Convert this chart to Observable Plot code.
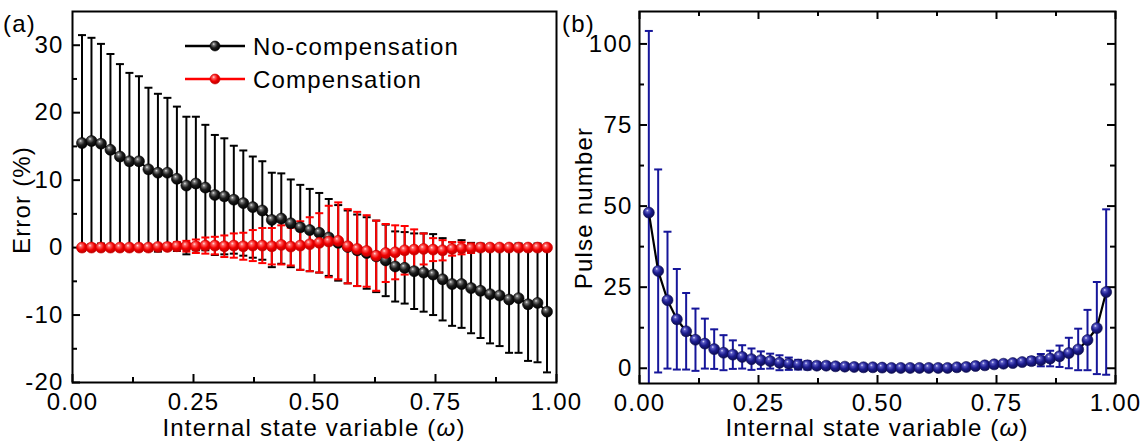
<!DOCTYPE html>
<html>
<head>
<meta charset="utf-8">
<script src="https://cdn.jsdelivr.net/npm/d3@7"></script>
<script src="https://cdn.jsdelivr.net/npm/@observablehq/plot@0.6"></script>
<style>
  body { margin: 0; background: #fff; }
  #wrap { position: relative; width: 1143px; height: 446px; overflow: hidden; background: #fff;
          font-family: "Liberation Sans", Arial, sans-serif; color: #000; }
  #wrap > svg { position: absolute; top: 0; }
  #overlay { left: 0; pointer-events: none; }
  #overlay text { font-family: "Liberation Sans", Arial, sans-serif; font-size: 24px; letter-spacing: 1.2px; fill: #000; }
</style>
</head>
<body>
<div id="wrap">
  <svg width="0" height="0" style="position:absolute">
    <defs>
      <radialGradient id="ballBlack" cx="0.42" cy="0.4" r="0.62" fx="0.36" fy="0.3">
        <stop offset="0" stop-color="#e8e8e8"/>
        <stop offset="0.2" stop-color="#777"/>
        <stop offset="0.55" stop-color="#1c1c1c"/>
        <stop offset="1" stop-color="#000"/>
      </radialGradient>
      <radialGradient id="ballRed" cx="0.42" cy="0.4" r="0.62" fx="0.36" fy="0.3">
        <stop offset="0" stop-color="#ffe0e0"/>
        <stop offset="0.22" stop-color="#ff6060"/>
        <stop offset="0.6" stop-color="#f00000"/>
        <stop offset="1" stop-color="#b80000"/>
      </radialGradient>
      <radialGradient id="ballNavy" cx="0.42" cy="0.4" r="0.62" fx="0.36" fy="0.3">
        <stop offset="0" stop-color="#e6e6ff"/>
        <stop offset="0.2" stop-color="#5a5ac4"/>
        <stop offset="0.55" stop-color="#1c1c8e"/>
        <stop offset="1" stop-color="#0c0c50"/>
      </radialGradient>
    </defs>
  </svg>
</div>
<script>
// Internal state variable ω of each sampled state
const omega = [0.0196, 0.0392, 0.0588, 0.0784, 0.0980, 0.1176, 0.1373, 0.1569, 0.1765, 0.1961,
               0.2157, 0.2353, 0.2549, 0.2745, 0.2941, 0.3137, 0.3333, 0.3529, 0.3725, 0.3922,
               0.4118, 0.4314, 0.4510, 0.4706, 0.4902, 0.5098, 0.5294, 0.5490, 0.5686, 0.5882,
               0.6078, 0.6275, 0.6471, 0.6667, 0.6863, 0.7059, 0.7255, 0.7451, 0.7647, 0.7843,
               0.8039, 0.8235, 0.8431, 0.8627, 0.8824, 0.9020, 0.9216, 0.9412, 0.9608, 0.9804];

// (a) programming error (%), mean and spread
const noCompMean = [15.5, 15.8, 15.4, 14.5, 13.5, 12.8, 12.8, 11.6, 11.1, 11.1,
                    10.2, 9.2, 9.5, 8.9, 7.8, 7.6, 7.1, 6.6, 6.0, 5.5,
                    4.1, 4.3, 3.6, 3.0, 2.6, 2.2, 1.5, 0.7, 0.1, -0.4,
                    -0.8, -1.3, -1.9, -2.8, -3.0, -3.5, -3.7, -4.0, -4.7, -5.4,
                    -5.4, -6.0, -6.4, -6.9, -7.1, -7.7, -7.5, -8.4, -8.2, -9.5];
const noCompErr = [16.0, 15.3, 14.8, 14.2, 13.7, 13.1, 12.6, 12.1, 11.7, 11.1,
                   10.7, 10.2, 9.9, 9.3, 8.9, 8.6, 8.0, 7.8, 7.5, 7.3,
                   7.0, 6.7, 6.5, 6.3, 6.1, 5.9, 5.7, 5.6, 5.4, 5.3,
                   5.3, 5.3, 5.3, 5.2, 5.3, 5.6, 5.8, 6.0, 6.1, 6.2,
                   6.5, 6.7, 7.0, 7.3, 7.5, 7.9, 8.1, 8.4, 8.8, 9.0];
const compMean = [0, 0, 0, 0, 0, 0, 0, 0, 0.1, 0.1,
                  0.2, 0.2, 0.2, 0.3, 0.3, 0.2, 0.3, 0.2, 0.3, 0.3,
                  0.2, 0.4, 0.15, 0.3, 0.5, 0.7, 0.9, 1.0, 0.2, -0.2,
                  -0.5, -1.2, -0.8, -0.7, -0.4, -0.3, -0.2, -0.3, -0.4, -0.2,
                  -0.1, -0.1, 0, 0, 0, 0, 0, 0, 0, 0];
const compErr = [0.1, 0.1, 0.1, 0.15, 0.15, 0.2, 0.2, 0.25, 0.3, 0.5,
                 0.6, 0.8, 1.0, 1.2, 1.3, 1.6, 1.8, 2.0, 2.3, 2.6,
                 2.7, 2.9, 2.8, 3.6, 4.0, 4.4, 5.3, 5.7, 5.5, 5.5,
                 5.3, 5.2, 4.3, 4.0, 3.6, 3.0, 2.3, 1.7, 1.5, 1.0,
                 0.9, 0.7, 0.5, 0.4, 0.3, 0.25, 0.2, 0.15, 0.1, 0.05];

// (b) number of programming pulses, mean and spread
const pulseMean = [48, 30, 21, 15.1, 11.4, 8.8, 7.6, 5.9, 4.8, 4.2,
                   3.5, 2.8, 2.5, 2.2, 1.7, 1.4, 1.1, 0.9, 0.8, 0.8,
                   0.6, 0.5, 0.4, 0.3, 0.3, 0.2, 0.1, 0.1, 0.1, 0.1,
                   0.1, 0.1, 0.1, 0.3, 0.4, 0.7, 0.9, 1.2, 1.4, 1.6,
                   1.9, 2.2, 2.5, 3.0, 3.7, 4.7, 5.8, 8.7, 12.4, 23.5];
const pulseErr = [56, 31.3, 21.1, 15.5, 11.8, 9.6, 7.7, 6.1, 5.4, 4.4,
                  3.6, 3.3, 2.7, 2.3, 2.3, 1.9, 1.5, 1.3, 1.0, 0.9,
                  0.8, 0.7, 0.6, 0.5, 0.4, 0.4, 0.4, 0.4, 0.4, 0.4,
                  0.4, 0.4, 0.4, 0.4, 0.4, 0.45, 0.5, 0.5, 0.6, 0.6,
                  0.7, 1.2, 1.9, 2.4, 3.3, 4.7, 6.4, 9.3, 14.2, 25.5];

// Axis ticks
const xMajor = [0, 0.25, 0.5, 0.75, 1];
const xMinor = [0.125, 0.375, 0.625, 0.875];
const errMajor = [-20, -10, 0, 10, 20, 30];
const errMinor = [-15, -5, 5, 15, 25];
const pulseMajor = [0, 25, 50, 75, 100];
const pulseMinor = [12.5, 37.5, 62.5, 87.5];

const series = (ys, es) => omega.map((x, i) => ({x, y: ys[i], e: es[i]}));
const noComp = series(noCompMean, noCompErr);
const comp = series(compMean, compErr);
const pulses = series(pulseMean, pulseErr);

// horizontal cap drawn as a dot symbol, half-width = r
const capSymbol = {
  draw(ctx, size) { const r = Math.sqrt(size / Math.PI); ctx.moveTo(-r, 0); ctx.lineTo(r, 0); }
};

function errorBars(data, color) {
  return [
    Plot.ruleX(data, {x: "x", y1: d => d.y - d.e, y2: d => d.y + d.e, stroke: color, strokeWidth: 2, clip: true}),
    Plot.dot(data, {x: "x", y: d => d.y + d.e, symbol: capSymbol, r: 4, fill: "none", stroke: color, strokeWidth: 2, clip: true}),
    Plot.dot(data, {x: "x", y: d => d.y - d.e, symbol: capSymbol, r: 4, fill: "none", stroke: color, strokeWidth: 2, clip: true})
  ];
}

// inward-pointing tick marks on the frame
function frameTicks(plotW, plotH, xs, xm, ys, ym, mirror) {
  const m = [
    Plot.tickX(xs, {insetTop: plotH - 8, stroke: "#000", strokeWidth: 2}),
    Plot.tickX(xm, {insetTop: plotH - 5, stroke: "#000", strokeWidth: 2}),
    Plot.tickY(ys, {insetRight: plotW - 8, stroke: "#000", strokeWidth: 2}),
    Plot.tickY(ym, {insetRight: plotW - 5, stroke: "#000", strokeWidth: 2})
  ];
  if (mirror) m.push(
    Plot.tickX(xs, {insetBottom: plotH - 8, stroke: "#000", strokeWidth: 2}),
    Plot.tickX(xm, {insetBottom: plotH - 5, stroke: "#000", strokeWidth: 2}),
    Plot.tickY(ys, {insetLeft: plotW - 8, stroke: "#000", strokeWidth: 2}),
    Plot.tickY(ym, {insetLeft: plotW - 5, stroke: "#000", strokeWidth: 2})
  );
  return m;
}

const baseStyle = {
  fontFamily: "'Liberation Sans', Arial, sans-serif",
  fontSize: "24px",
  letterSpacing: "1.2px",
  background: "transparent",
  overflow: "visible",
  color: "#000"
};

const fmt2 = d3.format(".2f");

// (a) error with and without compensation
const plotA = Plot.plot({
  width: 570, height: 446,
  marginLeft: 72, marginRight: 14, marginTop: 11, marginBottom: 64,
  style: baseStyle,
  x: {domain: [0, 1]},
  y: {domain: [-20, 35]},
  marks: [
    ...frameTicks(484, 371, xMajor, xMinor, errMajor, errMinor, false),
    Plot.axisX(xMajor, {tickSize: 0, tickPadding: 10.5, tickFormat: fmt2, label: null}),
    Plot.axisY(errMajor, {tickSize: 0, tickPadding: 9, tickFormat: d => String(d), label: null}),
    ...errorBars(noComp, "#000"),
    ...errorBars(comp, "#ff0000"),
    Plot.line(noComp, {x: "x", y: "y", stroke: "#000", strokeWidth: 2}),
    Plot.dot(noComp, {x: "x", y: "y", r: 5.5, fill: "url(#ballBlack)", stroke: "#000", strokeWidth: 0.6}),
    Plot.line(comp, {x: "x", y: "y", stroke: "#ff0000", strokeWidth: 2}),
    Plot.dot(comp, {x: "x", y: "y", r: 5.5, fill: "url(#ballRed)", stroke: "#d00000", strokeWidth: 0.6}),
    Plot.frame({stroke: "#000", strokeWidth: 2})
  ]
});
plotA.style.left = "0px";

// (b) pulse number needed to reach each state
const plotB = Plot.plot({
  width: 573, height: 446,
  marginLeft: 69, marginRight: 28, marginTop: 11, marginBottom: 63,
  style: baseStyle,
  x: {domain: [0, 1]},
  y: {domain: [-4.7, 110]},
  marks: [
    ...frameTicks(476, 372, xMajor, xMinor, pulseMajor, pulseMinor, true),
    Plot.axisX(xMajor, {tickSize: 0, tickPadding: 10, tickFormat: fmt2, label: null}),
    Plot.axisY(pulseMajor, {tickSize: 0, tickPadding: 7, tickFormat: d => String(d), label: null}),
    ...errorBars(pulses, "#16169a"),
    Plot.line(pulses, {x: "x", y: "y", stroke: "#000", strokeWidth: 2.2}),
    Plot.dot(pulses, {x: "x", y: "y", r: 5.5, fill: "url(#ballNavy)", stroke: "#0c0c50", strokeWidth: 0.6}),
    Plot.frame({stroke: "#000", strokeWidth: 2})
  ]
});
plotB.style.left = "570px";

const wrap = document.getElementById("wrap");
wrap.appendChild(plotA);
wrap.appendChild(plotB);

// titles, panel tags and legend
const ov = d3.select(wrap).append("svg")
  .attr("id", "overlay").attr("width", 1143).attr("height", 446);

ov.append("text").attr("x", 3).attr("y", 32).text("(a)");
ov.append("text").attr("x", 562).attr("y", 32).text("(b)");

for (const cx of [314, 877]) {
  const t = ov.append("text").attr("x", cx).attr("y", 435.5).attr("text-anchor", "middle");
  t.append("tspan").text("Internal state variable (");
  t.append("tspan").attr("font-style", "italic").text("ω");
  t.append("tspan").text(")");
}

ov.append("text").attr("transform", "translate(30,200) rotate(-90)").attr("text-anchor", "middle").text("Error (%)");
ov.append("text").attr("transform", "translate(592,208) rotate(-90)").attr("text-anchor", "middle").text("Pulse number");

const legend = [
  {name: "No-compensation", color: "#000", ball: "url(#ballBlack)", edge: "#000", y: 46, base: 55},
  {name: "Compensation", color: "#ff0000", ball: "url(#ballRed)", edge: "#d00000", y: 79, base: 88}
];
for (const it of legend) {
  ov.append("line").attr("x1", 185).attr("x2", 245).attr("y1", it.y).attr("y2", it.y)
    .attr("stroke", it.color).attr("stroke-width", 2.5);
  ov.append("circle").attr("cx", 215).attr("cy", it.y).attr("r", 5)
    .attr("fill", it.ball).attr("stroke", it.edge).attr("stroke-width", 0.6);
  ov.append("text").attr("x", 253).attr("y", it.base).text(it.name);
}
</script>
</body>
</html>
